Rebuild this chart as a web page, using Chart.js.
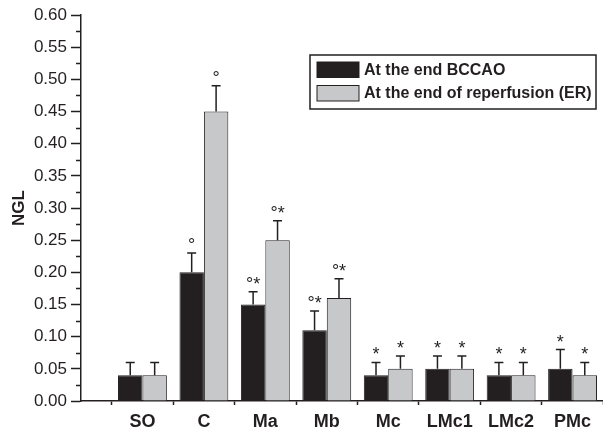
<!DOCTYPE html>
<html lang="en">
<head>
  <meta charset="UTF-8" />
  <title>NGL</title>
  <script src="https://cdn.jsdelivr.net/npm/chart.js"></script>
  <style>
    html, body { margin: 0; padding: 0; background: #fff; overflow: hidden; }
    .wrap { width: 640px; height: 429px; position: relative; }
  </style>
</head>
<body>
  <div class="wrap">
    <canvas id="myChart"></canvas>
  </div>

  <script>
    // data
    var categories = ['SO', 'C', 'Ma', 'Mb', 'Mc', 'LMc1', 'LMc2', 'PMc'];
    var bccao    = [0.04, 0.20, 0.15, 0.11, 0.04, 0.05, 0.04, 0.05];
    var bccaoErr = [0.02, 0.03, 0.02, 0.03, 0.02, 0.02, 0.02, 0.03];
    var er       = [0.04, 0.45, 0.25, 0.16, 0.05, 0.05, 0.04, 0.04];
    var erErr    = [0.02, 0.04, 0.03, 0.03, 0.02, 0.02, 0.02, 0.02];
    var bccaoSig = ['', '°', '°*', '°*', '*', '*', '*', '*'];
    var erSig    = ['', '°', '°*', '°*', '*', '*', '*', '*'];
    var yTicks   = [0, 0.05, 0.10, 0.15, 0.20, 0.25, 0.30, 0.35, 0.40, 0.45, 0.50, 0.55, 0.60];
    var seriesNames = ['At the end BCCAO', 'At the end of reperfusion (ER)'];

    var ink = '#231f20';
    var dark = '#231f20';
    var grey = '#c7c8ca';
    var font = "'Liberation Sans', Arial, sans-serif";

    // blank slot on each side, the axis starts half a category before SO
    var labels = [''].concat(categories, ['']);
    function pad(arr) { return [null].concat(arr, [null]); }

    var errs = [bccaoErr, erErr];
    var sigs = [bccaoSig, erSig];

    var extras = {
      id: 'extras',
      afterDatasetsDraw: function (chart) {
        var c = chart.ctx;
        var y = chart.scales.y;
        var area = chart.chartArea;

        // minor ticks on the y axis
        c.save();
        c.strokeStyle = ink;
        c.lineWidth = 1.5;
        for (var k = 0; k < yTicks.length - 1; k++) {
          var mid = (yTicks[k] + yTicks[k + 1]) / 2;
          var py = Math.round(y.getPixelForValue(mid)) + 0.5;
          c.beginPath();
          c.moveTo(area.left - 5, py);
          c.lineTo(area.left, py);
          c.stroke();
        }

        // error bars + significance marks
        chart.data.datasets.forEach(function (ds, i) {
          var meta = chart.getDatasetMeta(i);
          meta.data.forEach(function (bar, j) {
            var v = ds.data[j];
            if (v === null) return;
            var e = errs[i][j - 1];
            var top = y.getPixelForValue(v + e);
            c.strokeStyle = ink;
            c.lineWidth = 1.5;
            c.beginPath();
            c.moveTo(bar.x, bar.y);
            c.lineTo(bar.x, top);
            c.moveTo(bar.x - 4.5, top);
            c.lineTo(bar.x + 4.5, top);
            c.stroke();

            var s = sigs[i][j - 1];
            if (s) {
              c.fillStyle = ink;
              c.font = '18px ' + font;
              c.textAlign = 'center';
              c.textBaseline = 'alphabetic';
              c.fillText(s, bar.x, top - 2);
            }
          });
        });

        // legend box
        var lx = area.left + 229;
        var ly = area.top + 40;
        c.lineWidth = 1.5;
        c.strokeStyle = ink;
        c.strokeRect(lx, ly, 286, 54);
        chart.data.datasets.forEach(function (ds, i) {
          var sy = ly + 7 + i * 23.5;
          c.fillStyle = ds.backgroundColor;
          c.fillRect(lx + 7, sy, 42, 15.5);
          c.lineWidth = 1;
          c.strokeRect(lx + 7, sy, 42, 15.5);
          c.fillStyle = ink;
          c.font = 'bold 16px ' + font;
          c.textAlign = 'left';
          c.textBaseline = 'middle';
          c.fillText(ds.label, lx + 54, sy + 8.5);
        });
        c.restore();
      }
    };

    var ctx = document.getElementById('myChart');
    new Chart(ctx, {
      type: 'bar',
      data: {
        labels: labels,
        datasets: [{
          label: seriesNames[0],
          data: pad(bccao),
          backgroundColor: dark,
          borderColor: ink,
          borderWidth: 1
        }, {
          label: seriesNames[1],
          data: pad(er),
          backgroundColor: grey,
          borderColor: ink,
          borderWidth: 1
        }]
      },
      options: {
        responsive: true,
        maintainAspectRatio: false,
        animation: false,
        layout: { padding: { top: 15, right: 3, left: 0, bottom: 0 } },
        plugins: {
          legend: { display: false },
          tooltip: { enabled: false }
        },
        datasets: {
          bar: { categoryPercentage: 0.795, barPercentage: 1 }
        },
        scales: {
          x: {
            offset: false,
            grid: {
              offset: true,
              drawOnChartArea: false,
              drawTicks: true,
              tickLength: 4,
              tickColor: ink,
              tickWidth: 1.5
            },
            border: { color: ink, width: 1.5 },
            ticks: {
              color: ink,
              padding: 6,
              maxRotation: 0,
              autoSkip: false,
              font: { family: font, size: 18, weight: 'bold' }
            },
            afterFit: function (scale) { scale.height = 28; }
          },
          y: {
            min: 0,
            max: 0.6,
            grid: {
              drawOnChartArea: false,
              tickLength: 10,
              tickColor: ink,
              tickWidth: 1.5
            },
            border: { color: ink, width: 1.5 },
            ticks: {
              stepSize: 0.05,
              color: ink,
              padding: 4,
              font: { family: font, size: 17 },
              callback: function (v) { return v.toFixed(2); }
            },
            title: {
              display: true,
              text: 'NGL',
              color: ink,
              padding: { top: 9, bottom: 0 },
              font: { family: font, size: 17, weight: 'bold' }
            },
            afterFit: function (scale) { scale.width = 81; }
          }
        }
      },
      plugins: [extras]
    });
  </script>
</body>
</html>
